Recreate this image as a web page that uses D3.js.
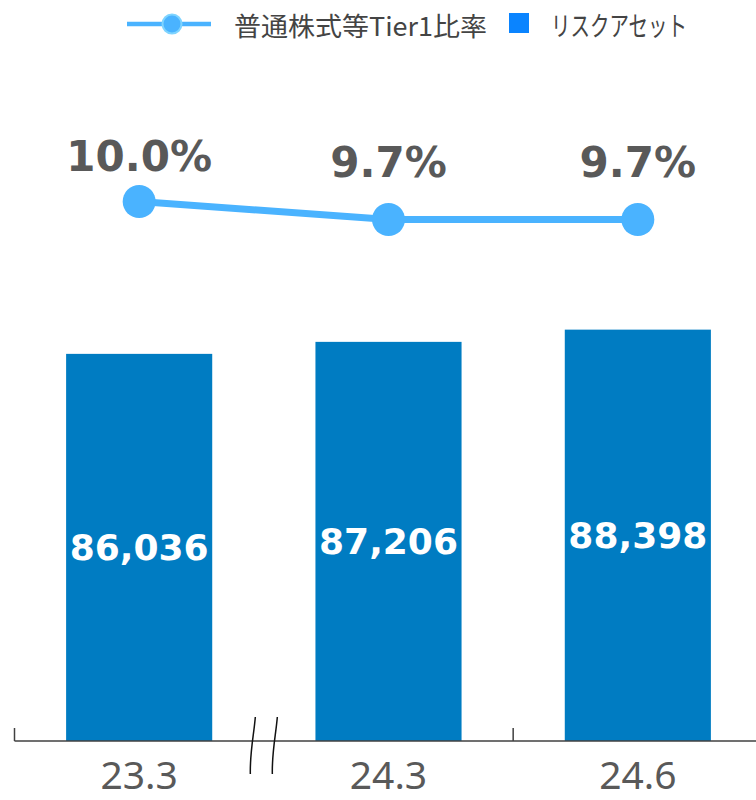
<!DOCTYPE html>
<html>
<head>
<meta charset="utf-8">
<script src="https://cdn.jsdelivr.net/npm/d3@7"></script>
<style>
  html, body { margin: 0; padding: 0; background: #fff; }
  svg { display: block; }
</style>
</head>
<body>
<svg id="chart" width="756" height="800"></svg>
<script>
// ---- data ----
const categories = ["23.3", "24.3", "24.6"];
const riskAssets = [86036, 87206, 88398];
const tier1Ratio = [10.0, 9.7, 9.7];
const ratioLabels = ["10.0%", "9.7%", "9.7%"];
const legendLabels = ["普通株式等Tier1比率", "リスクアセット"];

// ---- styling ----
const barColor = "#007cc2";
const lineColor = "#4ab3ff";
const legendSquareColor = "#0a84ff";
const textGray = "#595959";

const svg = d3.select("#chart");
const baseY = 741;

const x = d3.scaleBand()
  .domain(categories)
  .range([14.5, 762.5])
  .paddingInner(0.414)
  .paddingOuter(0.207);

const yBar = d3.scaleLinear().domain([48300, 90000]).range([baseY, 313.2]);
const yLine = d3.scaleLinear().domain([9, 10]).range([261.5, 201.5]);
const yLabel = d3.scaleLinear().domain([9.7, 10.0]).range([177, 171]);

const halfGap = (x.step() - x.bandwidth()) / 2;

// bars
svg.append("g").selectAll("rect")
  .data(riskAssets)
  .join("rect")
  .attr("x", (d, i) => x(categories[i]))
  .attr("width", x.bandwidth())
  .attr("y", d => yBar(d))
  .attr("height", d => baseY - yBar(d))
  .attr("fill", barColor);

// bar labels
svg.append("g").selectAll("text")
  .data(riskAssets)
  .join("text")
  .attr("x", (d, i) => x(categories[i]) + x.bandwidth() / 2)
  .attr("y", d => (yBar(d) + baseY) / 2)
  .attr("text-anchor", "middle")
  .attr("dominant-baseline", "central")
  .attr("font-family", "DejaVu Sans")
  .attr("font-weight", "bold")
  .attr("font-size", 36)
  .attr("fill", "#fff")
  .text(d => d3.format(",")(d));

// axis line
svg.append("line")
  .attr("x1", 14.5).attr("x2", 756)
  .attr("y1", baseY).attr("y2", baseY)
  .attr("stroke", "#404040").attr("stroke-width", 1.5);

// ticks at category boundaries (first and between 2nd and 3rd)
const tickXs = [x(categories[0]) - halfGap, x(categories[2]) - halfGap];
svg.append("g").selectAll("line")
  .data(tickXs)
  .join("line")
  .attr("x1", d => d).attr("x2", d => d)
  .attr("y1", baseY - 13).attr("y2", baseY)
  .attr("stroke", "#404040").attr("stroke-width", 1.5);

// axis break mark between 1st and 2nd category
const bx = x(categories[1]) - halfGap;
[-11, 11].forEach(off => {
  const cx = bx + off;
  svg.append("path")
    .attr("d", `M${cx + 2.5},${717} C${cx + 1},${735} ${cx - 3},${752} ${cx - 2.5},${774}`)
    .attr("fill", "none")
    .attr("stroke", "#111")
    .attr("stroke-width", 1.5);
});

// x axis labels
svg.append("g").selectAll("text")
  .data(categories)
  .join("text")
  .attr("x", d => x(d) + x.bandwidth() / 2)
  .attr("y", 789)
  .attr("text-anchor", "middle")
  .attr("font-family", "Noto Sans")
  .attr("font-size", 39)
  .attr("fill", textGray)
  .text(d => d);

// line series
const pts = tier1Ratio.map((v, i) => [x(categories[i]) + x.bandwidth() / 2, yLine(v)]);
svg.append("path")
  .attr("d", d3.line()(pts))
  .attr("fill", "none")
  .attr("stroke", lineColor)
  .attr("stroke-width", 7);

svg.append("g").selectAll("circle")
  .data(pts)
  .join("circle")
  .attr("cx", d => d[0]).attr("cy", d => d[1])
  .attr("r", 16.5)
  .attr("fill", lineColor);

svg.append("g").selectAll("text")
  .data(tier1Ratio)
  .join("text")
  .attr("x", (d, i) => x(categories[i]) + x.bandwidth() / 2)
  .attr("y", d => yLabel(d))
  .attr("text-anchor", "middle")
  .attr("font-family", "DejaVu Sans")
  .attr("font-weight", "bold")
  .attr("font-size", 42)
  .attr("fill", textGray)
  .text((d, i) => ratioLabels[i]);

// legend
const lg = svg.append("g");
lg.append("line")
  .attr("x1", 127).attr("x2", 211).attr("y1", 24).attr("y2", 24)
  .attr("stroke", lineColor).attr("stroke-width", 4.5);
lg.append("circle")
  .attr("cx", 172).attr("cy", 24).attr("r", 9.5)
  .attr("fill", lineColor).attr("stroke", "#7fd4ff").attr("stroke-width", 2);
lg.append("text")
  .attr("x", 234).attr("y", 24)
  .attr("dominant-baseline", "central")
  .attr("font-family", "Noto Sans CJK JP")
  .attr("font-size", 26)
  .attr("fill", "#444")
  .attr("textLength", 253)
  .attr("lengthAdjust", "spacingAndGlyphs")
  .text(legendLabels[0]);
lg.append("rect")
  .attr("x", 509).attr("y", 13).attr("width", 20).attr("height", 20)
  .attr("fill", legendSquareColor);
lg.append("text")
  .attr("x", 551).attr("y", 24)
  .attr("dominant-baseline", "central")
  .attr("font-family", "Noto Sans CJK JP")
  .attr("font-size", 27)
  .attr("fill", "#444")
  .attr("textLength", 136)
  .attr("lengthAdjust", "spacingAndGlyphs")
  .text(legendLabels[1]);
</script>
</body>
</html>
